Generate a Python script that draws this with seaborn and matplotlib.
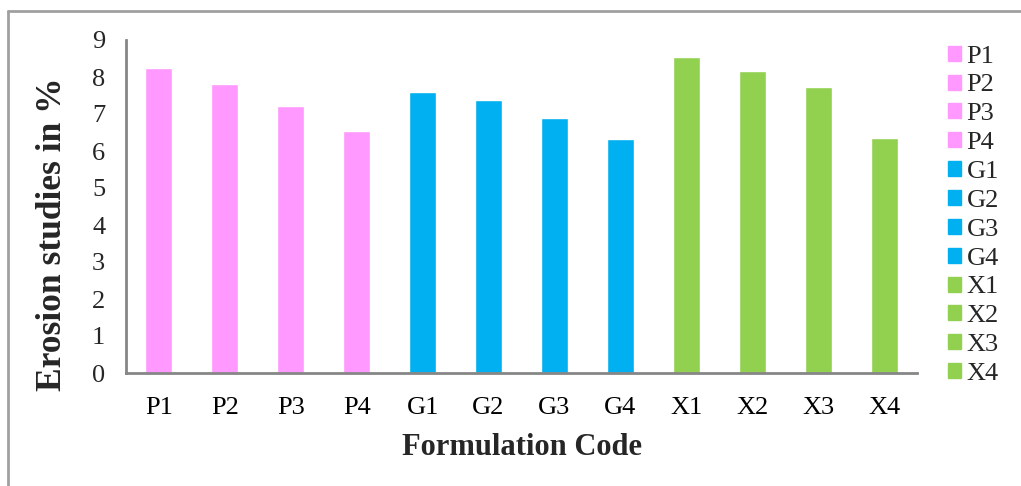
import numpy as np
import pandas as pd
import seaborn as sns
import matplotlib.pyplot as plt
from matplotlib.lines import Line2D

sns.set_style("white")
plt.rcParams['font.family'] = ['Liberation Serif', 'DejaVu Serif']

codes = ['P1', 'P2', 'P3', 'P4', 'G1', 'G2', 'G3', 'G4', 'X1', 'X2', 'X3', 'X4']
erosion = [8.25, 7.82, 7.22, 6.55, 7.60, 7.38, 6.90, 6.33, 8.55, 8.15, 7.73, 6.35]
colors = ['#FF99FF'] * 4 + ['#00B0F0'] * 4 + ['#92D050'] * 4

df = pd.DataFrame({'code': codes, 'erosion': erosion})

fig = plt.figure(figsize=(10.21, 4.86), dpi=100)
ax = fig.add_axes([126 / 1021, 1 - 373 / 486, (917 - 126) / 1021, (373 - 40) / 486])

sns.barplot(data=df, x='code', y='erosion', hue='code', palette=colors,
            width=0.41, dodge=False, legend=True, ax=ax, saturation=1)

axis_col = '#868686'
ax.set_xlim(-0.5, len(codes) - 0.5)
ax.set_ylim(0, 9)
ax.set_yticks(range(0, 10))
ax.set_xticks(np.arange(-0.5, len(codes), 1.0), minor=True)
ax.tick_params(axis='x', which='major', length=0, labelsize=19, pad=17, colors='black')
ax.tick_params(axis='x', which='minor', length=6, width=1.5, color=axis_col, direction='out')
ax.tick_params(axis='y', length=6, width=1.5, color=axis_col, labelsize=19, pad=9, direction='out')
for s in ['top', 'right']:
    ax.spines[s].set_visible(False)
for s in ['left', 'bottom']:
    ax.spines[s].set_color(axis_col)
    ax.spines[s].set_linewidth(2)

ax.set_xlabel('Formulation Code', fontsize=22, fontweight='bold', labelpad=10)
ax.set_ylabel('Erosion studies in %', fontsize=25.5, fontweight='bold', va='center')
ax.yaxis.set_label_coords(-0.0925, 0.417)

handles = [plt.Rectangle((0, 0), 1, 1, color=c) for c in colors]
ax.legend(handles, codes, loc='upper left', bbox_to_anchor=(1.026, 1.015),
          frameon=False, fontsize=19, handlelength=0.5, handleheight=0.5,
          handletextpad=0.2, labelspacing=0.26, borderaxespad=0)

fig.add_artist(Line2D([8 / 1021, 8 / 1021], [0, 1 - 11 / 486], color='#A0A0A0', lw=2))
fig.add_artist(Line2D([8 / 1021, 1], [1 - 11 / 486, 1 - 11 / 486], color='#A0A0A0', lw=2))

fig.savefig('out.png', dpi=100)
